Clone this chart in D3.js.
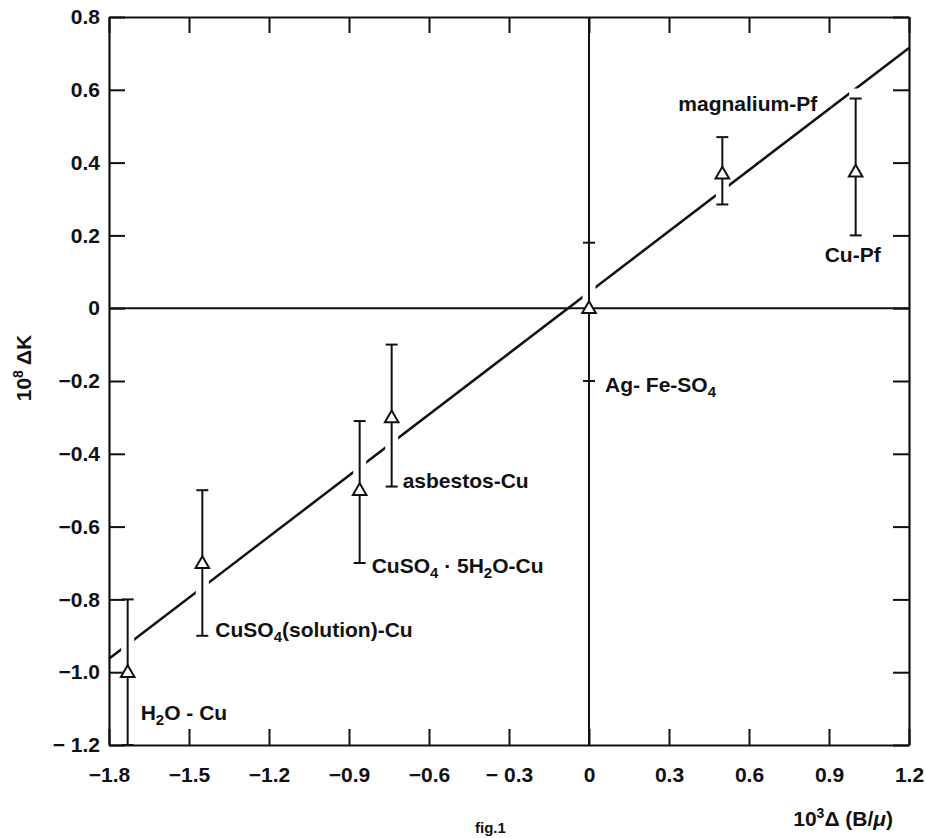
<!DOCTYPE html>
<html>
<head>
<meta charset="utf-8">
<script src="https://cdn.jsdelivr.net/npm/d3@7"></script>
<style>
  body { margin: 0; background: #fff; }
  svg text { font-family: "Liberation Sans", Arial, sans-serif; font-weight: bold; fill: #111; }
</style>
</head>
<body>
<svg id="chart" width="926" height="838"></svg>
<script>
// axis ticks
const xTicks = [-1.8, -1.5, -1.2, -0.9, -0.6, -0.3, 0, 0.3, 0.6, 0.9, 1.2];
const xTickLabels = ["−1.8", "−1.5", "−1.2", "−0.9", "−0.6", "− 0.3", "0", "0.3", "0.6", "0.9", "1.2"];
const yTicks = [0.8, 0.6, 0.4, 0.2, 0, -0.2, -0.4, -0.6, -0.8, -1.0, -1.2];
const yTickLabels = ["0.8", "0.6", "0.4", "0.2", "0", "−0.2", "−0.4", "−0.6", "−0.8", "−1.0", "− 1.2"];

// samples ("_" = next char subscript)
const sampleNames = ["H_2O - Cu", "CuSO_4(solution)-Cu", "CuSO_4 · 5H_2O-Cu", "asbestos-Cu", "Ag- Fe-SO_4", "magnalium-Pf", "Cu-Pf"];
const deltaB = [-1.73, -1.45, -0.86, -0.74, 0.0, 0.5, 1.0];
const deltaK = [-1.0, -0.7, -0.5, -0.3, 0.0, 0.37, 0.375];
const errLow = [-1.2, -0.9, -0.7, -0.49, -0.2, 0.285, 0.2];
const errHigh = [-0.8, -0.5, -0.31, -0.1, 0.18, 0.47, 0.576];

// fitted line
const fitX = [-1.8, 1.2];
const fitY = [-0.963, 0.715];

const margin = {top: 17, left: 109, right: 17, bottom: 93};
const w = 926, h = 838;
const tickLen = 16;
const fontSize = 21;

// label offsets from the marker (px)
const labelOffsets = [[13, 48], [13, 74], [12, 83], [11, 71], [16, 84], [-44, -63], [-31, 90]];

const svg = d3.select("#chart");

const x = d3.scaleLinear().domain([-1.8, 1.2]).range([margin.left, w - margin.right]);
const y = d3.scaleLinear().domain([-1.2, 0.8]).range([h - margin.bottom, margin.top]);

const data = sampleNames.map((name, i) => ({
    name, x: deltaB[i], y: deltaK[i], lo: errLow[i], hi: errHigh[i], off: labelOffsets[i]
}));

// FIT LINE
svg.append("path")
    .datum(fitX.map((d, i) => [d, fitY[i]]))
    .attr("d", d3.line().x(d => x(d[0])).y(d => y(d[1])))
    .attr("fill", "none")
    .attr("stroke", "#111")
    .attr("stroke-width", 2.5);

// white knockouts so the line breaks at each error bar
svg.selectAll(".knock")
    .data(data)
    .join("line")
    .attr("class", "knock")
    .attr("x1", d => x(d.x)).attr("x2", d => x(d.x))
    .attr("y1", d => y(d.hi) - 10).attr("y2", d => y(d.lo) + 10)
    .attr("stroke", "#fff")
    .attr("stroke-width", 13);

// ZERO LINES
svg.append("line")
    .attr("x1", x(-1.8)).attr("x2", x(1.2))
    .attr("y1", y(0)).attr("y2", y(0))
    .attr("stroke", "#111").attr("stroke-width", 2);
svg.append("line")
    .attr("x1", x(0)).attr("x2", x(0))
    .attr("y1", y(0.8)).attr("y2", y(-1.2))
    .attr("stroke", "#111").attr("stroke-width", 2);

// AXES (ticks pointing inward)
const styleAxis = g => {
    g.attr("font-size", fontSize).attr("font-family", null);
    g.select(".domain").attr("stroke", "#111").attr("stroke-width", 2.2);
    g.selectAll(".tick line").attr("stroke", "#111").attr("stroke-width", 2);
    g.selectAll(".tick text").attr("fill", "#111");
};

svg.append("g")
    .attr("transform", `translate(0,${y(-1.2)})`)
    .call(d3.axisBottom(x).tickValues(xTicks).tickSize(-tickLen).tickSizeOuter(0).tickPadding(22)
        .tickFormat((d, i) => xTickLabels[i]))
    .call(styleAxis);

svg.append("g")
    .attr("transform", `translate(0,${y(0.8)})`)
    .call(d3.axisTop(x).tickValues(xTicks).tickSize(-tickLen).tickSizeOuter(0).tickFormat(""))
    .call(styleAxis);

svg.append("g")
    .attr("transform", `translate(${x(-1.8)},0)`)
    .call(d3.axisLeft(y).tickValues(yTicks).tickSize(-tickLen).tickSizeOuter(0).tickPadding(9)
        .tickFormat((d, i) => yTickLabels[i]))
    .call(styleAxis);

svg.append("g")
    .attr("transform", `translate(${x(1.2)},0)`)
    .call(d3.axisRight(y).tickValues(yTicks).tickSize(-tickLen).tickSizeOuter(0).tickFormat(""))
    .call(styleAxis);

// ERROR BARS
const bars = svg.selectAll(".bar")
    .data(data)
    .join("g")
    .attr("class", "bar")
    .attr("stroke", "#111")
    .attr("stroke-width", 2);

bars.append("line")
    .attr("x1", d => x(d.x)).attr("x2", d => x(d.x))
    .attr("y1", d => y(d.hi)).attr("y2", d => y(d.lo));
bars.append("line")
    .attr("x1", d => x(d.x) - 6).attr("x2", d => x(d.x) + 6)
    .attr("y1", d => y(d.hi)).attr("y2", d => y(d.hi));
bars.append("line")
    .attr("x1", d => x(d.x) - 6).attr("x2", d => x(d.x) + 6)
    .attr("y1", d => y(d.lo)).attr("y2", d => y(d.lo));

// MARKERS (open triangles)
svg.selectAll(".mark")
    .data(data)
    .join("path")
    .attr("class", "mark")
    .attr("d", d3.symbol(d3.symbolTriangle, 80))
    .attr("transform", d => `translate(${x(d.x)},${y(d.y) + 1})`)
    .attr("fill", "#fff")
    .attr("stroke", "#111")
    .attr("stroke-width", 2);

// LABELS with subscripts
const addRich = (sel, str) => {
    let buf = "";
    let shifted = false;
    const flush = () => {
        if (!buf) return;
        const t = sel.append("tspan").text(buf);
        if (shifted) { t.attr("dy", -5); shifted = false; }
        buf = "";
    };
    for (let i = 0; i < str.length; i++) {
        if (str[i] === "_" && i + 1 < str.length) {
            flush();
            sel.append("tspan").text(str[i + 1]).attr("font-size", 15).attr("dy", shifted ? 0 : 5);
            shifted = true;
            i++;
        } else {
            buf += str[i];
        }
    }
    flush();
};

svg.selectAll(".lab")
    .data(data)
    .join("text")
    .attr("class", "lab")
    .attr("x", d => x(d.x) + d.off[0])
    .attr("y", d => y(d.y) + d.off[1])
    .attr("font-size", fontSize)
    .each(function (d) { addRich(d3.select(this), d.name); });

// AXIS TITLES
const xTitle = svg.append("text")
    .attr("x", 893).attr("y", 826)
    .attr("text-anchor", "end")
    .attr("font-size", 21);
xTitle.append("tspan").text("10");
xTitle.append("tspan").text("3").attr("font-size", 14).attr("dy", -8);
xTitle.append("tspan").text("Δ (B/").attr("dy", 8);
xTitle.append("tspan").text("μ").attr("font-style", "italic");
xTitle.append("tspan").text(")");

const yTitle = svg.append("text")
    .attr("transform", "translate(31,368) rotate(-90)")
    .attr("text-anchor", "middle")
    .attr("font-size", 21);
yTitle.append("tspan").text("10");
yTitle.append("tspan").text("8").attr("font-size", 14).attr("dy", -8);
yTitle.append("tspan").text(" ΔK").attr("dy", 8);

// caption at the bottom edge
svg.append("text")
    .attr("x", 475).attr("y", 833)
    .attr("font-size", 15)
    .text("fig.1");
</script>
</body>
</html>
